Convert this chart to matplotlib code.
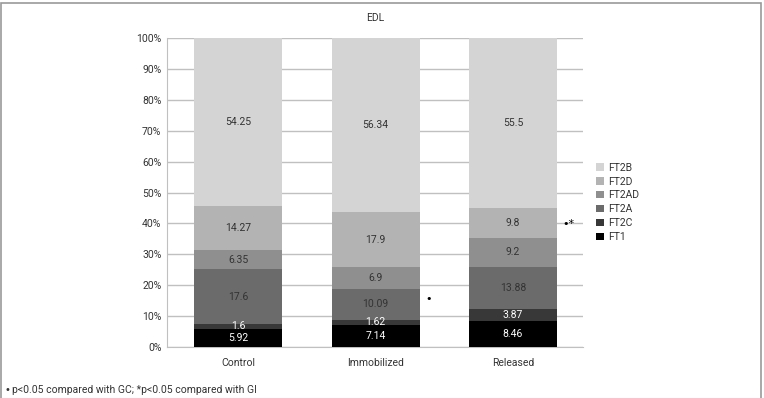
import matplotlib
matplotlib.use('Agg')
import matplotlib.pyplot as plt
import numpy as np
from matplotlib.patches import Rectangle

plt.rcParams['font.family'] = ['Roboto', 'DejaVu Sans']

groups = ['Control', 'Immobilized', 'Released']
fibers = ['FT1', 'FT2C', 'FT2A', 'FT2AD', 'FT2D', 'FT2B']
values = {
    'FT1':   [5.92, 7.14, 8.46],
    'FT2C':  [1.6, 1.62, 3.87],
    'FT2A':  [17.6, 10.09, 13.88],
    'FT2AD': [6.35, 6.9, 9.2],
    'FT2D':  [14.27, 17.9, 9.8],
    'FT2B':  [54.25, 56.34, 55.5],
}
colors = ['#000000', '#383838', '#6b6b6b', '#8f8f8f', '#b3b3b3', '#d4d4d4']
text_colors = ['white', 'white', '#333333', '#333333', '#333333', '#333333']

# significance marks: (group index, height %, text)
marks = [(1, 15.5, '\u2022'), (2, 39.8, '\u2022*')]

fig = plt.figure(figsize=(7.64, 3.98), dpi=100)
ax = fig.add_axes([0.2186, 0.1281, 0.5445, 0.7764])

data = np.array([values[f] for f in fibers])
totals = data.sum(axis=0)
pct = data / totals * 100
x = np.arange(len(groups))
bottom = np.zeros(len(groups))
handles = []
for i, f in enumerate(fibers):
    b = ax.bar(x, pct[i], 0.64, bottom=bottom, color=colors[i], label=f, zorder=3)
    handles.append(b)
    for j in range(len(groups)):
        ax.text(x[j], bottom[j] + pct[i][j] / 2, '{:g}'.format(data[i][j]),
                ha='center', va='center', fontsize=7.5, color=text_colors[i], zorder=4)
    bottom += pct[i]

for gi, h, t in marks:
    ax.text(gi + 0.36, h, t, ha='left', va='center', fontsize=8,
            color='black', family='DejaVu Sans')

ax.set_xlim(-0.52, 2.51)
ax.set_ylim(0, 100)
ax.set_yticks(np.arange(0, 101, 10))
ax.set_yticklabels(['{}%'.format(v) for v in range(0, 101, 10)])
ax.set_xticks(x)
ax.set_xticklabels(groups)
ax.tick_params(length=0, labelsize=7.5, colors='#333333', pad=4)
ax.tick_params(axis='x', pad=8)
ax.grid(axis='y', color='#c0c0c0', linewidth=1, zorder=0)
for s in ['top', 'right']:
    ax.spines[s].set_visible(False)
ax.spines['left'].set_color('#c0c0c0')
ax.spines['bottom'].set_color('#c0c0c0')
ax.set_title('EDL', fontsize=7.5, color='#333333', pad=12)

leg = fig.legend(handles[::-1], fibers[::-1], loc='upper left',
                 bbox_to_anchor=(0.775, 0.602), frameon=False, fontsize=7.5,
                 handlelength=0.7, handleheight=0.7, handletextpad=0.4,
                 labelspacing=0.38, borderaxespad=0)
for t in leg.get_texts():
    t.set_color('#333333')

fig.text(0.006, 0.02, '\u2022', fontsize=7, color='#333333', va='center',
         family='DejaVu Sans')
fig.text(0.016, 0.02, 'p<0.05 compared with GC; *p<0.05 compared with GI',
         fontsize=7.5, color='#333333', va='center')

fig.patches.append(Rectangle((0.001, -0.05), 0.995, 1.043, transform=fig.transFigure,
                             fill=False, edgecolor='#999999', linewidth=1.2))

fig.savefig('out.png', dpi=100)
